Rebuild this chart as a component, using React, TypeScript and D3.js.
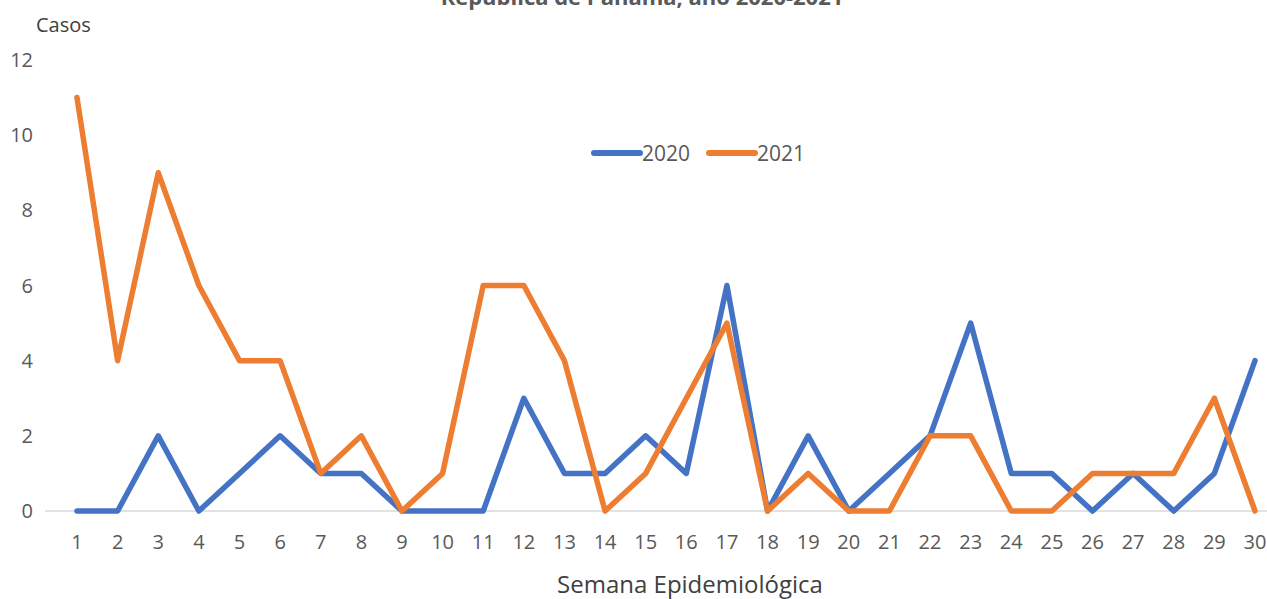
import React from "react";
import * as d3 from "d3";

const weeks = d3.range(1, 31).map(String);
const cases2020 = [0, 0, 2, 0, 1, 2, 1, 1, 0, 0, 0, 3, 1, 1, 2, 1, 6, 0, 2, 0, 1, 2, 5, 1, 1, 0, 1, 0, 1, 4];
const cases2021 = [11, 4, 9, 6, 4, 4, 1, 2, 0, 1, 6, 6, 4, 0, 1, 3, 5, 0, 1, 0, 0, 2, 2, 0, 0, 1, 1, 1, 3, 0];
const yTicks = [0, 2, 4, 6, 8, 10, 12];
const seriesNames = ["2020", "2021"];
const seriesColors = ["#4472C4", "#ED7D31"];
const title = "República de Panamá, año 2020-2021";
const yLabel = "Casos";
const xLabel = "Semana  Epidemiológica";

const W = 1267;
const H = 599;
const FONT = "'Open Sans', Lato, sans-serif";

export default function App() {
  const x = d3.scalePoint<string>().domain(weeks).range([77, 1255]);
  const y = d3.scaleLinear().domain([0, 12]).range([511, 60]);
  const line = d3
    .line<number>()
    .x((_, i) => x(weeks[i]) as number)
    .y((d) => y(d));
  const series = [cases2020, cases2021];

  return (
    <svg
      width={W}
      height={H}
      style={{ position: "absolute", left: 0, top: 0, background: "#fff" }}
      fontFamily={FONT}
    >
      <rect x={0} y={0} width={W} height={H} fill="#fff" />
      <text x={642} y={5} textAnchor="middle" fontSize={22} fontWeight="bold" fill="#595959">
        {title}
      </text>
      <text x={36} y={32} fontSize={20} fill="#404040">
        {yLabel}
      </text>
      {yTicks.map((t) => (
        <text key={t} x={33} y={y(t) + 7} textAnchor="end" fontSize={20} fill="#595959">
          {t}
        </text>
      ))}
      <line x1={45} x2={W} y1={y(0)} y2={y(0)} stroke="#d9d9d9" strokeWidth={1.5} />
      {weeks.map((w) => (
        <text key={w} x={x(w)} y={549} textAnchor="middle" fontSize={20} fill="#595959">
          {w}
        </text>
      ))}
      <text x={690} y={593} textAnchor="middle" fontSize={24} fill="#404040">
        {xLabel}
      </text>
      {series.map((s, i) => (
        <path
          key={i}
          d={line(s) || ""}
          fill="none"
          stroke={seriesColors[i]}
          strokeWidth={5.5}
          strokeLinejoin="round"
          strokeLinecap="round"
        />
      ))}
      {seriesNames.map((n, i) => {
        const lx = 594 + i * 115;
        return (
          <g key={n}>
            <line x1={lx} x2={lx + 46} y1={153} y2={153} stroke={seriesColors[i]} strokeWidth={6} strokeLinecap="round" />
            <text x={lx + 48} y={161} fontSize={21} fill="#595959">
              {n}
            </text>
          </g>
        );
      })}
    </svg>
  );
}
